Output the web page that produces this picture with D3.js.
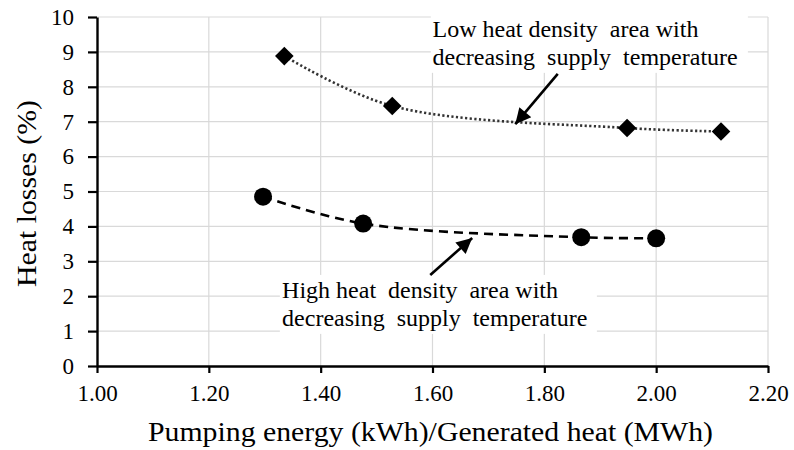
<!DOCTYPE html>
<html>
<head>
<meta charset="utf-8">
<script src="https://cdn.jsdelivr.net/npm/d3@7"></script>
<style>
  html, body { margin: 0; padding: 0; background: #fff; }
  svg { display: block; font-family: "Liberation Serif", "Times New Roman", serif; }
</style>
</head>
<body>
<svg id="chart" width="794" height="450"></svg>
<script>
// Heat losses vs pumping energy – two district heating areas

const lowDensityX = [1.335, 1.528, 1.948, 2.116];
const lowDensityY = [8.88, 7.45, 6.82, 6.72];

const highDensityX = [1.297, 1.476, 1.866, 2.000];
const highDensityY = [4.85, 4.08, 3.69, 3.66];

const xTicks = [1.0, 1.2, 1.4, 1.6, 1.8, 2.0, 2.2];
const yTicks = [0, 1, 2, 3, 4, 5, 6, 7, 8, 9, 10];

const lowLabel = ["Low heat density  area with", "decreasing  supply  temperature"];
const highLabel = ["High heat  density  area with", "decreasing  supply  temperature"];

const svg = d3.select("#chart");
const width = 794, height = 450;
const margin = { top: 17, right: 26, bottom: 84, left: 97 };
const innerW = width - margin.left - margin.right;
const innerH = height - margin.top - margin.bottom;

const x = d3.scaleLinear().domain([1.0, 2.2]).range([0, innerW]);
const y = d3.scaleLinear().domain([0, 10]).range([innerH, 0]);

const g = svg.append("g").attr("transform", `translate(${margin.left},${margin.top})`);

// grid
g.append("g").selectAll("line").data(yTicks.slice(1)).join("line")
  .attr("x1", 0).attr("x2", innerW)
  .attr("y1", d => y(d)).attr("y2", d => y(d))
  .attr("stroke", "#d9d9d9").attr("stroke-width", 1.2);
g.append("g").selectAll("line").data(xTicks.slice(1)).join("line")
  .attr("x1", d => x(d)).attr("x2", d => x(d))
  .attr("y1", 0).attr("y2", innerH)
  .attr("stroke", "#d9d9d9").attr("stroke-width", 1.2);

// axes
const xAxis = g.append("g")
  .attr("transform", `translate(0,${innerH})`)
  .call(d3.axisBottom(x).tickValues(xTicks).tickFormat(d3.format(".2f")).tickSizeOuter(0).tickSizeInner(7).tickPadding(12));
const yAxis = g.append("g")
  .call(d3.axisLeft(y).tickValues(yTicks).tickSizeOuter(0).tickSizeInner(9).tickPadding(14));

[xAxis, yAxis].forEach(a => {
  a.select(".domain").attr("stroke", "#000").attr("stroke-width", 2.4);
  a.selectAll(".tick line").attr("stroke", "#000").attr("stroke-width", 2.2);
  a.selectAll(".tick text")
    .attr("fill", "#000")
    .style("font-family", "'Liberation Serif', 'Times New Roman', serif")
    .style("font-size", "23px");
});

// annotation boxes (white, hide the grid behind the text)
function box(x0, x1, y0, y1) {
  g.append("rect")
    .attr("x", x(x0)).attr("y", y(y0))
    .attr("width", x(x1) - x(x0)).attr("height", y(y1) - y(y0))
    .attr("fill", "#fff");
}
box(1.597, 2.164, 10.15, 8.4);
box(1.327, 1.894, 2.61, 0.92);

// series lines
const line = d3.line()
  .x(d => x(d[0])).y(d => y(d[1]))
  .curve(d3.curveCatmullRom.alpha(0.5));

const lowPts = d3.zip(lowDensityX, lowDensityY);
const highPts = d3.zip(highDensityX, highDensityY);

g.append("path").datum(lowPts)
  .attr("d", line).attr("fill", "none")
  .attr("stroke", "#333").attr("stroke-width", 2.6)
  .attr("stroke-dasharray", "2.2,2.4");

g.append("path").datum(highPts)
  .attr("d", line).attr("fill", "none")
  .attr("stroke", "#000").attr("stroke-width", 2.6)
  .attr("stroke-dasharray", "9,6");

// markers
g.append("g").selectAll("path").data(lowPts).join("path")
  .attr("transform", d => `translate(${x(d[0])},${y(d[1])})`)
  .attr("d", d3.symbol(d3.symbolDiamond2, 220))
  .attr("fill", "#000");

g.append("g").selectAll("circle").data(highPts).join("circle")
  .attr("cx", d => x(d[0])).attr("cy", d => y(d[1]))
  .attr("r", 9).attr("fill", "#000");

// arrows
svg.append("defs").append("marker")
  .attr("id", "head")
  .attr("viewBox", "0 0 10 10")
  .attr("refX", 10).attr("refY", 5)
  .attr("markerWidth", 7).attr("markerHeight", 6)
  .attr("markerUnits", "strokeWidth")
  .attr("orient", "auto")
  .append("path").attr("d", "M0,0 L10,5 L0,10 Z").attr("fill", "#000");

function arrow(x0, y0, x1, y1) {
  g.append("line")
    .attr("x1", x(x0)).attr("y1", y(y0))
    .attr("x2", x(x1)).attr("y2", y(y1))
    .attr("stroke", "#000").attr("stroke-width", 2.6)
    .attr("marker-end", "url(#head)");
}
arrow(1.824, 8.37, 1.748, 6.93);
arrow(1.596, 2.61, 1.671, 3.67);

// annotation text
function label(lines, x0, yBase) {
  const t = g.append("text")
    .attr("x", x(x0))
    .attr("fill", "#000")
    .style("font-size", "24px")
    .style("white-space", "pre");
  lines.forEach((s, i) => {
    t.append("tspan").attr("x", x(x0)).attr("y", y(yBase) + i * 28).text(s);
  });
}
label(lowLabel, 1.600, 9.43);
label(highLabel, 1.331, 1.95);

// axis titles
svg.append("text")
  .attr("x", 148)
  .attr("y", 441)
  .attr("fill", "#000")
  .attr("textLength", 565)
  .attr("lengthAdjust", "spacingAndGlyphs")
  .style("font-size", "27px")
  .text("Pumping energy (kWh)/Generated heat (MWh)");

svg.append("text")
  .attr("transform", `translate(36,287) rotate(-90)`)
  .attr("fill", "#000")
  .attr("textLength", 187)
  .attr("lengthAdjust", "spacingAndGlyphs")
  .style("font-size", "27px")
  .text("Heat losses (%)");
</script>
</body>
</html>
